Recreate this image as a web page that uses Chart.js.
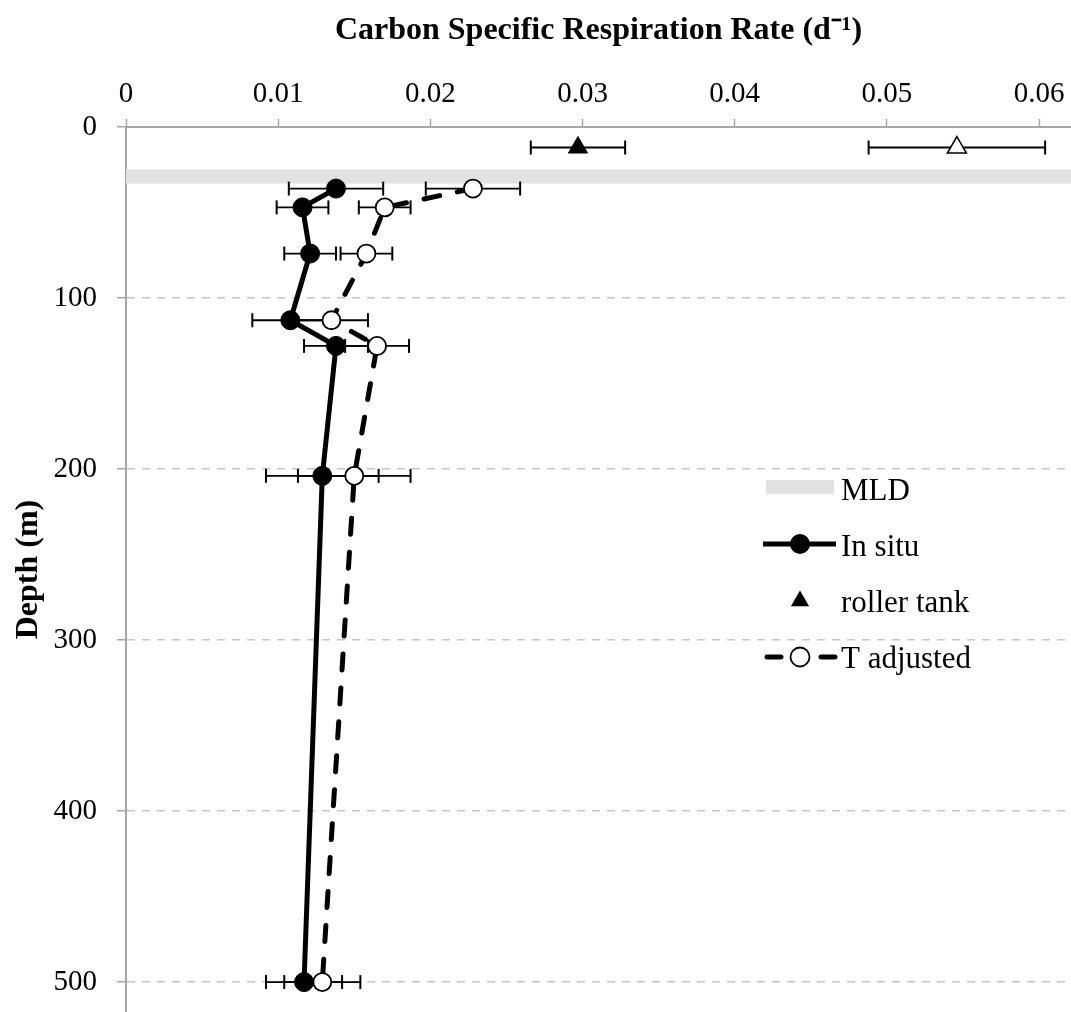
<!DOCTYPE html>
<html>
<head>
<meta charset="utf-8">
<title>Carbon Specific Respiration Rate</title>
<script src="https://cdn.jsdelivr.net/npm/chart.js@4.4.1/dist/chart.umd.min.js"></script>
<style>
  html, body { margin: 0; padding: 0; background: #ffffff; }
  #chart-box { width: 1071px; height: 1012px; }
</style>
</head>
<body>
<div id="chart-box"><canvas id="resp-chart" width="1071" height="1012"></canvas></div>
<script>
"use strict";
(function () {
  // Depth of each profile sample (m)
  const DEPTHS = [36, 47, 74, 113, 128, 204, 500];
  // In situ rate and error (d-1)
  const IN_SITU = [0.0138, 0.0116, 0.0121, 0.0108, 0.0138, 0.0129, 0.0117];
  const IN_SITU_ERR = [0.0031, 0.0017, 0.0017, 0.0025, 0.0021, 0.0037, 0.0025];
  // Temperature adjusted rate and error (d-1)
  const T_ADJ = [0.0228, 0.0170, 0.0158, 0.0135, 0.0165, 0.0150, 0.0129];
  const T_ADJ_ERR = [0.0031, 0.0017, 0.0017, 0.0024, 0.0021, 0.0037, 0.0025];
  // Roller tank (surface) values
  const TANK_DEPTH = [12];
  const TANK_IN_SITU = [0.0297];
  const TANK_IN_SITU_ERR = [0.0031];
  const TANK_T_ADJ = [0.0546];
  const TANK_T_ADJ_ERR = [0.0058];
  // Mixed layer depth (m)
  const MLD_DEPTH = [29];
  // Axis ranges and ticks
  const X_MAX = 0.0621;
  const Y_MAX = 517.5;
  const X_STEP = 0.01;
  const Y_STEP = 100;
  const LEGEND_LABELS = ["MLD", "In situ", "roller tank", "T adjusted"];

  const FONT = "'Liberation Serif', 'Times New Roman', serif";
  const AXIS_GRAY = "#a6a6a6";
  const GRID_GRAY = "#c6c6c6";
  const MLD_GRAY = "#e2e2e2";

  window.addEventListener("load", init);

  function init() {
    Chart.defaults.font.family = FONT;
    Chart.defaults.color = "#000000";

    let datasets = [];
    datasets.push({
      label: LEGEND_LABELS[0],
      data: [{x: 0, y: MLD_DEPTH[0]}, {x: X_MAX, y: MLD_DEPTH[0]}],
      showLine: true,
      borderColor: MLD_GRAY,
      borderWidth: 14,
      pointRadius: 0,
      order: 10
    });
    datasets = datasets.concat(errorBars(IN_SITU, IN_SITU_ERR, DEPTHS));
    datasets = datasets.concat(errorBars(T_ADJ, T_ADJ_ERR, DEPTHS));
    datasets = datasets.concat(errorBars(TANK_IN_SITU, TANK_IN_SITU_ERR, TANK_DEPTH));
    datasets = datasets.concat(errorBars(TANK_T_ADJ, TANK_T_ADJ_ERR, TANK_DEPTH));
    datasets.push({
      label: LEGEND_LABELS[1],
      data: toPoints(IN_SITU, DEPTHS),
      showLine: true,
      borderColor: "#000000",
      borderWidth: 5,
      pointRadius: 9.5,
      pointBackgroundColor: "#000000",
      pointBorderColor: "#000000",
      pointBorderWidth: 1,
      order: 2
    });
    datasets.push({
      label: LEGEND_LABELS[3],
      data: toPoints(T_ADJ, DEPTHS),
      showLine: true,
      borderColor: "#000000",
      borderWidth: 5,
      borderDash: [16, 18],
      borderCapStyle: "round",
      pointRadius: 9,
      pointBackgroundColor: "#ffffff",
      pointBorderColor: "#000000",
      pointBorderWidth: 1.8,
      order: 1
    });
    datasets.push({
      label: LEGEND_LABELS[2],
      data: toPoints(TANK_IN_SITU, TANK_DEPTH),
      showLine: false,
      pointStyle: "triangle",
      pointRadius: 11,
      pointBackgroundColor: "#000000",
      pointBorderColor: "#000000",
      pointBorderWidth: 1,
      order: 0
    });
    datasets.push({
      label: "roller tank (T adjusted)",
      data: toPoints(TANK_T_ADJ, TANK_DEPTH),
      showLine: false,
      pointStyle: "triangle",
      pointRadius: 11,
      pointBackgroundColor: "#ffffff",
      pointBorderColor: "#000000",
      pointBorderWidth: 1.5,
      order: 0
    });

    new Chart(id("resp-chart"), {
      type: "scatter",
      data: { datasets: datasets },
      options: {
        responsive: false,
        animation: false,
        devicePixelRatio: 1,
        events: [],
        layout: { padding: 0, autoPadding: false },
        scales: {
          x: {
            type: "linear",
            position: "top",
            min: 0,
            max: X_MAX,
            afterFit: scale => {
              scale.height = 127;
              scale.paddingLeft = 0;
              scale.paddingRight = 0;
            },
            ticks: {
              stepSize: X_STEP,
              includeBounds: false,
              padding: 7,
              font: { size: 29 },
              color: "#000000",
              callback: v => v === 0 ? "0" : v.toFixed(2)
            },
            grid: {
              drawOnChartArea: false,
              tickLength: 8,
              tickColor: AXIS_GRAY,
              tickWidth: 1.5
            },
            border: { color: AXIS_GRAY, width: 2 },
            title: {
              display: true,
              text: "Carbon Specific Respiration Rate (d\u207B\u00B9)",
              font: { size: 32, weight: "bold" },
              padding: { top: 12, bottom: 0 }
            }
          },
          y: {
            type: "linear",
            reverse: true,
            min: 0,
            max: Y_MAX,
            afterFit: scale => {
              scale.width = 126;
              scale.paddingTop = 0;
              scale.paddingBottom = 0;
            },
            ticks: {
              stepSize: Y_STEP,
              includeBounds: false,
              padding: 20,
              font: { size: 29 },
              color: "#000000"
            },
            grid: {
              color: c => (c.tick && c.tick.value === 0) ? "rgba(0,0,0,0)" : GRID_GRAY,
              lineWidth: 1.5,
              tickLength: 9,
              tickColor: AXIS_GRAY,
              tickWidth: 1.5,
              tickBorderDash: []
            },
            border: { color: AXIS_GRAY, width: 2, dash: [8, 7] },
            title: {
              display: true,
              text: "Depth (m)",
              font: { size: 32, weight: "bold" },
              padding: { top: 10, bottom: 0 }
            }
          }
        },
        plugins: {
          legend: { display: false },
          tooltip: { enabled: false }
        }
      },
      plugins: [sideLegend]
    });
  }

  function toPoints(values, depths) {
    return values.map((v, i) => ({x: v, y: depths[i]}));
  }

  // one small line dataset per error bar, caps are rotated "line" points
  function errorBars(values, errors, depths) {
    return values.map((v, i) => ({
      label: "error",
      data: [{x: v - errors[i], y: depths[i]}, {x: v + errors[i], y: depths[i]}],
      showLine: true,
      borderColor: "#000000",
      borderWidth: 1.8,
      pointStyle: "line",
      pointRadius: 7,
      pointRotation: 90,
      pointBorderColor: "#000000",
      pointBorderWidth: 2,
      order: 5
    }));
  }

  // legend drawn inside the plot, on the right
  const sideLegend = {
    id: "sideLegend",
    afterDraw(chart) {
      let ctx = chart.ctx;
      let iconX = 800;
      let textX = 841;
      let rows = [492, 548, 604, 660];
      ctx.save();

      // MLD band
      ctx.fillStyle = MLD_GRAY;
      ctx.fillRect(766, rows[0] - 12, 68, 14);

      // In situ
      let y = rows[1] - 4;
      ctx.strokeStyle = "#000000";
      ctx.lineWidth = 5;
      ctx.beginPath();
      ctx.moveTo(763, y);
      ctx.lineTo(836, y);
      ctx.stroke();
      ctx.fillStyle = "#000000";
      ctx.beginPath();
      ctx.arc(iconX, y, 10, 0, Math.PI * 2);
      ctx.fill();

      // roller tank
      y = rows[2] - 3;
      let r = 10.5;
      ctx.beginPath();
      ctx.moveTo(iconX, y - r);
      ctx.lineTo(iconX + r * 0.866, y + r * 0.5);
      ctx.lineTo(iconX - r * 0.866, y + r * 0.5);
      ctx.closePath();
      ctx.fill();

      // T adjusted
      y = rows[3] - 3;
      ctx.lineCap = "round";
      ctx.setLineDash([14, 40]);
      ctx.beginPath();
      ctx.moveTo(767, y);
      ctx.lineTo(835, y);
      ctx.stroke();
      ctx.setLineDash([]);
      ctx.fillStyle = "#ffffff";
      ctx.lineWidth = 1.8;
      ctx.beginPath();
      ctx.arc(iconX, y, 9.5, 0, Math.PI * 2);
      ctx.fill();
      ctx.stroke();

      ctx.fillStyle = "#000000";
      ctx.font = "31px " + FONT;
      ctx.textAlign = "left";
      ctx.textBaseline = "middle";
      for (let i = 0; i < LEGEND_LABELS.length; i++) {
        ctx.fillText(LEGEND_LABELS[i], textX, rows[i]);
      }
      ctx.restore();
    }
  };

  function id(name) {
    return document.getElementById(name);
  }
})();
</script>
</body>
</html>
